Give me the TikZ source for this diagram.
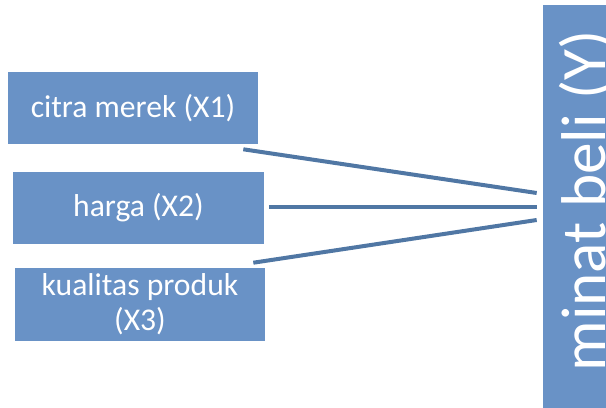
\documentclass[tikz,border=0pt]{standalone}
\usepackage{fontspec}
\setmainfont{Carlito}
\usepackage{graphicx}
\usetikzlibrary{positioning}
\definecolor{VarBlue}{HTML}{6992C6}
\definecolor{LinkBlue}{HTML}{5077A4}

\begin{document}
\begin{tikzpicture}[x=0.025cm,y=-0.025cm,
 varbox/.style={fill=VarBlue,text=white,align=center,inner sep=0pt,minimum width=6.25cm,minimum height=1.8cm,font=\fontsize{22.5}{25}\selectfont},
 link/.style={draw=LinkBlue,line width=0.1cm}]
\useasboundingbox (0,0) rectangle (606,408);
\clip (0,0) rectangle (606,408);
\node[varbox] (x1) at (133,108) {citra merek (X1)};
\node[varbox] (x2) at (138.5,208) {harga (X2)};
\node[varbox,minimum height=1.825cm] (x3) at (140,304.5) {kualitas produk\\(X3)};
\node[fill=VarBlue,text=white,inner sep=0pt,minimum width=2.2cm,minimum height=10.15cm,font=\fontsize{45}{50}\selectfont] (y) at (587,208) {\rotatebox{90}{\hspace{0.35cm}minat beli (Y)}};
\draw[link] ([xshift=-0.375cm,yshift=-0.125cm]x1.south east) -- ([xshift=-0.15cm,yshift=0.375cm]y.west);
\draw[link] ([xshift=0.125cm,yshift=0.025cm]x2.east) -- ([xshift=-0.15cm,yshift=0.025cm]y.west);
\draw[link] ([xshift=-0.3cm,yshift=0.125cm]x3.north east) -- ([xshift=-0.15cm,yshift=-0.3cm]y.west);
\end{tikzpicture}
\end{document}
